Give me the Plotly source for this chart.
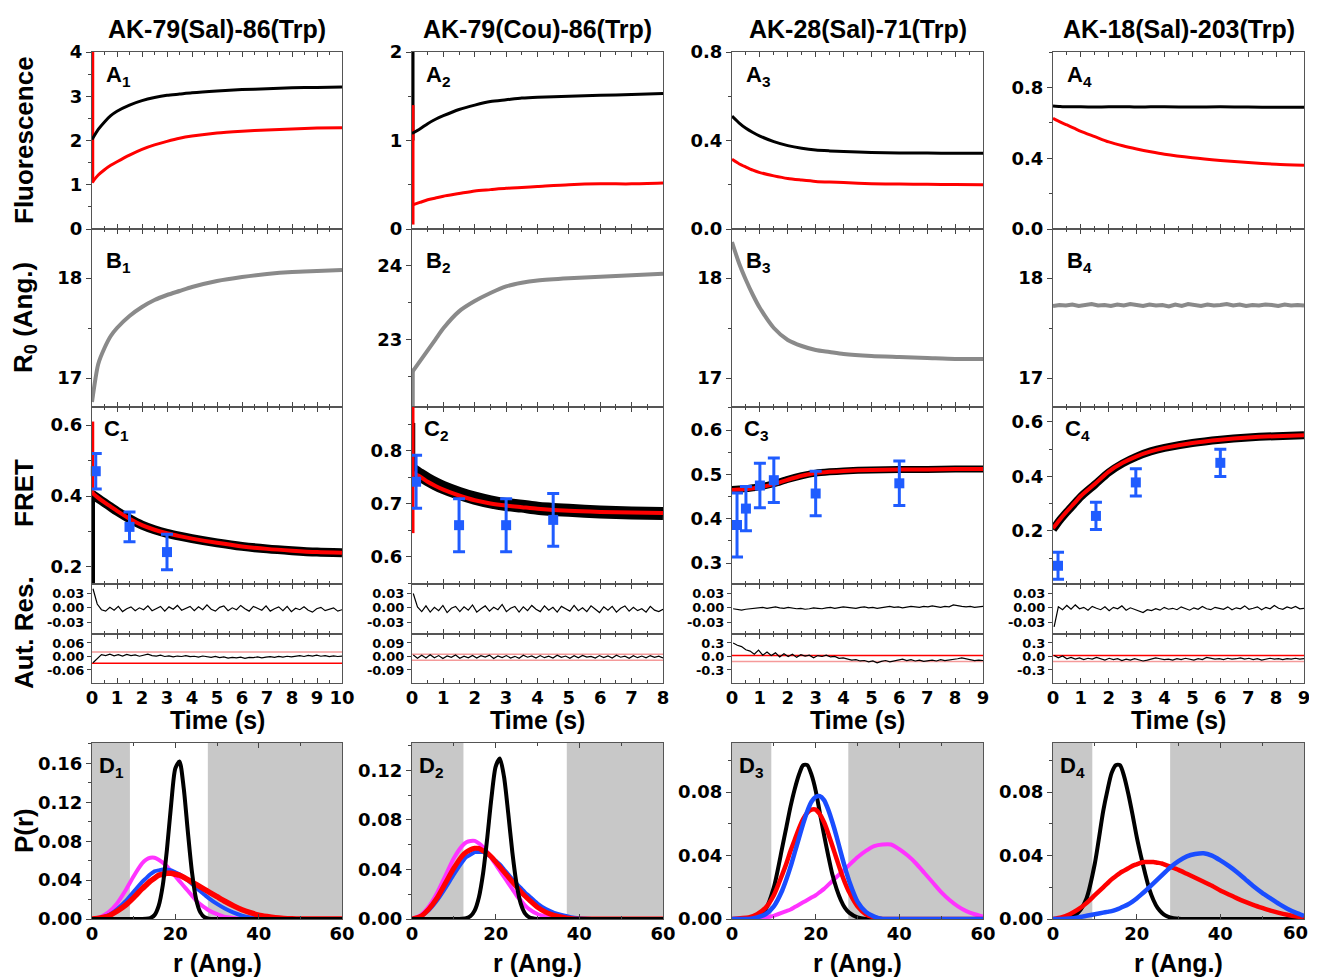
import numpy as np
import plotly.graph_objects as go

# ---------------------------------------------------------------- data
titles = ["AK-79(Sal)-86(Trp)", "AK-79(Cou)-86(Trp)", "AK-28(Sal)-71(Trp)", "AK-18(Sal)-203(Trp)"]
t_max = [10, 8, 9, 9]

t1 = [0, 0.25, 0.5, 0.75, 1, 1.5, 2, 2.5, 3, 3.5, 4, 5, 6, 7, 8, 9, 10]
t2 = [0, 0.25, 0.5, 0.75, 1, 1.5, 2, 2.5, 3, 3.5, 4, 5, 6, 7, 8]
t3 = [0, 0.25, 0.5, 0.75, 1, 1.5, 2, 2.5, 3, 3.5, 4, 5, 6, 7, 8, 9]
t4 = [0, 0.25, 0.5, 0.75, 1, 1.5, 2, 2.5, 3, 3.5, 4, 5, 6, 7, 8, 9]

# Fluorescence (A panels): black = donor channel, red = acceptor channel
a1_black = [2.02, 2.25, 2.42, 2.56, 2.66, 2.80, 2.90, 2.97, 3.02, 3.05, 3.08, 3.12, 3.15, 3.17, 3.19, 3.20, 3.21]
a1_red = [1.05, 1.22, 1.34, 1.44, 1.52, 1.67, 1.80, 1.90, 1.98, 2.05, 2.10, 2.17, 2.21, 2.24, 2.26, 2.28, 2.29]
a2_black = [1.08, 1.13, 1.19, 1.24, 1.28, 1.35, 1.40, 1.44, 1.46, 1.48, 1.49, 1.50, 1.51, 1.52, 1.53]
a2_red = [0.27, 0.30, 0.33, 0.35, 0.37, 0.40, 0.43, 0.445, 0.46, 0.47, 0.48, 0.50, 0.51, 0.51, 0.52]
a3_black = [0.51, 0.48, 0.455, 0.436, 0.42, 0.395, 0.377, 0.365, 0.357, 0.353, 0.35, 0.346, 0.344, 0.343, 0.342, 0.342]
a3_red = [0.315, 0.295, 0.28, 0.266, 0.255, 0.24, 0.228, 0.221, 0.215, 0.212, 0.21, 0.205, 0.203, 0.202, 0.201, 0.20]
a4_black = [0.695, 0.692, 0.690, 0.691, 0.690, 0.689, 0.690, 0.691, 0.689, 0.690, 0.690, 0.689, 0.690, 0.689, 0.688, 0.688]
a4_red = [0.625, 0.605, 0.588, 0.570, 0.552, 0.522, 0.492, 0.470, 0.452, 0.436, 0.422, 0.402, 0.387, 0.375, 0.366, 0.360]
a1_red_spike = [4.0, 1.05]
a2_black_spike = [2.0, 1.0]
a2_red_spike = [1.4, 0.05]

# R0 (B panels)
b1_r0 = [16.76, 17.14, 17.30, 17.42, 17.50, 17.62, 17.71, 17.78, 17.83, 17.87, 17.91, 17.97, 18.01, 18.04, 18.06, 18.07, 18.08]
b2_r0 = [22.55, 22.70, 22.85, 23.00, 23.15, 23.38, 23.52, 23.63, 23.72, 23.77, 23.80, 23.83, 23.85, 23.87, 23.89]
b3_r0 = [18.36, 18.15, 17.98, 17.83, 17.70, 17.50, 17.38, 17.32, 17.28, 17.26, 17.24, 17.22, 17.21, 17.20, 17.19, 17.19]
b4_r0 = [17.72, 17.73, 17.725, 17.735, 17.72, 17.73, 17.74, 17.725, 17.73, 17.72, 17.735, 17.725, 17.74, 17.73,
         17.72, 17.735, 17.725, 17.73, 17.715, 17.735, 17.72, 17.74, 17.73, 17.72, 17.735, 17.725, 17.73, 17.74,
         17.725, 17.735, 17.72, 17.73, 17.725, 17.735, 17.73, 17.72, 17.735, 17.725, 17.73, 17.725]
b2_spike = [22.6, 22.08]

# FRET efficiency (C panels): data band (black) and fit (red)
c1_data = [0.405, 0.393, 0.381, 0.369, 0.357, 0.336, 0.318, 0.305, 0.295, 0.287, 0.280, 0.268, 0.258, 0.251, 0.246, 0.242, 0.240]
c1_fit = [0.410, 0.395, 0.382, 0.370, 0.358, 0.336, 0.318, 0.305, 0.295, 0.287, 0.280, 0.268, 0.258, 0.251, 0.246, 0.242, 0.240]
c2_data = [0.765, 0.755, 0.746, 0.738, 0.731, 0.720, 0.711, 0.704, 0.699, 0.696, 0.692, 0.688, 0.685, 0.683, 0.682]
c2_fit = [0.760, 0.752, 0.742, 0.734, 0.727, 0.716, 0.707, 0.701, 0.697, 0.694, 0.691, 0.687, 0.685, 0.684, 0.683]
c3_data = [0.466, 0.467, 0.468, 0.470, 0.472, 0.479, 0.489, 0.497, 0.503, 0.506, 0.508, 0.510, 0.511, 0.511, 0.512, 0.512]
c3_fit = [0.465, 0.466, 0.467, 0.469, 0.471, 0.478, 0.488, 0.497, 0.503, 0.506, 0.508, 0.510, 0.511, 0.511, 0.512, 0.512]
c4_data = [0.205, 0.240, 0.270, 0.298, 0.326, 0.370, 0.415, 0.448, 0.473, 0.492, 0.505, 0.523, 0.535, 0.543, 0.548, 0.551]
c4_fit = [0.210, 0.242, 0.272, 0.300, 0.328, 0.372, 0.418, 0.450, 0.474, 0.492, 0.505, 0.523, 0.535, 0.543, 0.548, 0.551]
c1_black_spike = [0.40, 0.152]
c1_red_spike = [0.61, 0.41]
c2_black_spike = [0.853, 0.75]
c2_red_spike = [0.883, 0.645]

# single-molecule / steady-state FRET points (blue squares with error bars)
c1_pt_t = [0.15, 1.5, 3.0]
c1_pt_v = [0.47, 0.313, 0.242]
c1_pt_e = [0.05, 0.042, 0.05]
c2_pt_t = [0.13, 1.5, 3.0, 4.5]
c2_pt_v = [0.742, 0.66, 0.66, 0.67]
c2_pt_e = [0.05, 0.05, 0.05, 0.05]
c3_pt_t = [0.18, 0.5, 1.0, 1.5, 3.0, 6.0]
c3_pt_v = [0.386, 0.423, 0.475, 0.487, 0.457, 0.48]
c3_pt_e = [0.072, 0.05, 0.05, 0.05, 0.05, 0.05]
c4_pt_t = [0.18, 1.54, 2.97, 6.0]
c4_pt_v = [0.072, 0.255, 0.378, 0.45]
c4_pt_e = [0.05, 0.05, 0.05, 0.05]

# residuals (upper strip)
res1 = [
    [0.040, 0.008, -0.004, -0.007, 0.001, -0.005, 0.003, -0.008, -0.002, 0.002, -0.006, 0.000, -0.004, 0.004, -0.006,
     -0.001, 0.003, -0.007, 0.002, -0.003, 0.005, -0.005, -0.001, 0.003, -0.006, 0.002, -0.004, 0.006, -0.003, -0.007,
     0.001, 0.004, -0.006, 0.000, -0.004, 0.005, -0.002, -0.007, 0.003, -0.001, -0.005, 0.004, -0.007, -0.002, 0.002,
     -0.006, 0.003, -0.008, -0.001, -0.004, 0.002, -0.005, -0.009, -0.002, 0.001, -0.006, -0.003, 0.000, -0.007, -0.004],
    [0.030, 0.002, -0.008, 0.004, -0.009, 0.001, -0.006, 0.005, -0.010, -0.001, 0.003, -0.008, 0.002, -0.005, 0.006,
     -0.009, -0.002, 0.004, -0.007, 0.001, -0.004, 0.007, -0.008, -0.001, 0.003, -0.009, 0.002, -0.006, 0.005, -0.003,
     -0.008, 0.004, -0.005, 0.001, -0.009, 0.003, -0.002, -0.007, 0.005, -0.006, 0.000, -0.008, 0.004, -0.004, -0.010,
     0.002, -0.005, 0.003, -0.009, -0.001, 0.004, -0.007, 0.001, -0.006, -0.002, -0.009, 0.003, -0.005, -0.008, -0.003],
    [-0.002, -0.004, -0.005, -0.003, -0.002, -0.001, 0.000, 0.001, -0.001, 0.001, 0.002, 0.000, -0.001, 0.001, 0.000,
     -0.002, -0.001, -0.003, -0.002, 0.000, -0.001, -0.002, 0.000, 0.001, -0.001, 0.000, 0.002, 0.001, 0.000, -0.001,
     0.001, 0.002, 0.000, 0.001, -0.001, 0.000, 0.002, 0.003, 0.001, 0.002, 0.000, 0.001, 0.003, 0.002, 0.001,
     0.003, 0.002, 0.004, 0.002, 0.001, 0.003, 0.002, 0.006, 0.004, 0.003, 0.002, 0.003, 0.001, 0.002, 0.003],
    [-0.040, 0.002, -0.004, 0.005, -0.003, 0.006, -0.002, 0.001, -0.005, 0.003, -0.001, -0.004, 0.002, -0.006, 0.001,
     -0.002, 0.004, -0.005, 0.000, -0.003, -0.007, -0.010, -0.004, -0.006, -0.002, -0.005, 0.001, -0.003, -0.001, -0.004,
     0.002, -0.002, -0.005, 0.000, -0.003, 0.003, -0.002, -0.004, 0.001, -0.001, -0.003, 0.002, -0.004, 0.000, -0.002,
     0.004, -0.003, -0.001, 0.002, -0.004, 0.001, -0.002, 0.005, -0.001, -0.003, 0.002, -0.001, 0.003, -0.002, -0.001],
]
# autocorrelation of residuals (lower strip)
res2 = [
    [-0.028, -0.010, 0.008, 0.004, 0.010, 0.003, 0.008, 0.002, 0.009, 0.004, 0.007, 0.001, 0.006, 0.010, 0.004,
     0.002, 0.006, 0.000, 0.003, -0.002, 0.002, 0.000, 0.004, -0.001, 0.001, -0.003, 0.002, -0.002, -0.004, 0.000,
     -0.005, -0.002, -0.007, -0.004, -0.006, -0.003, -0.008, -0.004, -0.005, -0.002, -0.006, -0.003, -0.001, -0.004, 0.000,
     -0.003, 0.001, -0.002, 0.002, 0.004, 0.000, 0.005, 0.002, 0.006, 0.001, 0.004, -0.001, 0.003, 0.000, 0.002],
    [0.010, -0.012, 0.008, -0.010, 0.012, -0.008, 0.006, -0.014, 0.004, -0.006, 0.010, -0.012, 0.002, -0.009, 0.007,
     -0.011, 0.005, -0.004, 0.009, -0.013, 0.003, -0.007, 0.006, -0.010, 0.001, -0.012, 0.008, -0.005, 0.004, -0.011,
     0.006, -0.008, 0.002, -0.010, 0.009, -0.006, 0.003, -0.012, 0.005, -0.009, 0.007, -0.004, 0.001, -0.011, 0.006,
     -0.007, 0.004, -0.010, 0.008, -0.005, 0.002, -0.012, 0.005, -0.008, 0.003, -0.009, 0.006, -0.006, 0.002, -0.010],
    [0.30, 0.25, 0.22, 0.15, 0.12, 0.05, 0.14, 0.03, 0.10, 0.02, 0.08, -0.01, 0.06, 0.00, 0.05,
     -0.02, 0.04, 0.01, 0.03, -0.03, 0.02, 0.00, 0.03, -0.01, 0.00, -0.04, -0.03, -0.06, -0.08, -0.07,
     -0.10, -0.09, -0.12, -0.10, -0.14, -0.11, -0.09, -0.12, -0.10, -0.08, -0.06, -0.09, -0.07, -0.10, -0.08,
     -0.11, -0.09, -0.08, -0.10, -0.07, -0.09, -0.08, -0.06, -0.05, -0.03, -0.05, -0.08, -0.09, -0.08, -0.09],
    [0.02, -0.03, 0.01, -0.05, -0.02, -0.06, -0.03, -0.07, -0.04, -0.06, -0.02, -0.05, -0.08, -0.04, -0.07,
     -0.05, -0.09, -0.06, -0.08, -0.05, -0.07, -0.10, -0.08, -0.06, -0.03, -0.05, -0.07, -0.06, -0.08, -0.05,
     -0.07, -0.04, -0.06, -0.08, -0.05, -0.07, -0.02, -0.04, -0.06, -0.05, -0.07, -0.04, -0.06, -0.05, -0.03,
     -0.06, -0.04, -0.07, -0.05, -0.08, -0.06, -0.04, -0.06, -0.05, -0.07, -0.05, -0.06, -0.04, -0.06, -0.05],
]
res2_band_hi = [0.02, 0.015, 0.02, 0.02]
res2_band_lo = [-0.03, -0.025, -0.11, -0.11]

# distance distributions (D panels)
r_grid = [0, 2, 4, 6, 8, 10, 12, 13, 14, 15, 16, 17, 18, 19, 20, 21, 22, 23, 24, 25, 26, 27, 28,
          30, 32, 34, 36, 38, 40, 42, 44, 46, 48, 50, 52, 54, 56, 58, 60]
r_ticks = [0, 20, 40, 60]
d1_black = [0, 0, 0, 0, 0, 0, 0, 0.0002, 0.001, 0.004, 0.0135, 0.035, 0.072, 0.118, 0.155, 0.162, 0.135, 0.090, 0.048,
            0.020, 0.0068, 0.0018, 0.0004, 0, 0, 0, 0, 0, 0, 0, 0, 0, 0, 0, 0, 0, 0, 0, 0]
d1_magenta = [0, 0.002, 0.007, 0.016, 0.029, 0.044, 0.057, 0.061, 0.063, 0.063, 0.061, 0.058, 0.054, 0.049, 0.044,
              0.039, 0.034, 0.029, 0.024, 0.019, 0.015, 0.012, 0.009, 0.005, 0.002, 0.001, 0, 0, 0, 0, 0, 0, 0, 0, 0,
              0, 0, 0, 0]
d1_blue = [0, 0.001, 0.004, 0.010, 0.018, 0.028, 0.038, 0.042, 0.046, 0.049, 0.050, 0.051, 0.051, 0.050, 0.048, 0.046,
           0.043, 0.040, 0.036, 0.032, 0.0285, 0.025, 0.0215, 0.0155, 0.0105, 0.0065, 0.0035, 0.0015, 0.0005, 0, 0, 0,
           0, 0, 0, 0, 0, 0, 0]
d1_red = [0, 0.001, 0.003, 0.008, 0.014, 0.022, 0.031, 0.035, 0.039, 0.042, 0.045, 0.046, 0.047, 0.047, 0.046, 0.045,
          0.043, 0.0405, 0.038, 0.0355, 0.033, 0.0305, 0.028, 0.023, 0.018, 0.0135, 0.0095, 0.0065, 0.004, 0.0025,
          0.0013, 0.0006, 0.0002, 0, 0, 0, 0, 0, 0]
d2_black = [0, 0, 0, 0, 0, 0, 0.0002, 0.0007, 0.0024, 0.007, 0.0176, 0.037, 0.0658, 0.098, 0.123, 0.1295, 0.1147,
            0.0854, 0.0534, 0.0281, 0.0124, 0.0046, 0.0014, 0, 0, 0, 0, 0, 0, 0, 0, 0, 0, 0, 0, 0, 0, 0, 0]
d2_magenta = [0, 0.003, 0.010, 0.021, 0.035, 0.049, 0.059, 0.062, 0.063, 0.063, 0.061, 0.058, 0.054, 0.049, 0.044,
              0.039, 0.034, 0.029, 0.024, 0.019, 0.015, 0.011, 0.008, 0.004, 0.002, 0.0005, 0, 0, 0, 0, 0, 0, 0, 0,
              0, 0, 0, 0, 0]
d2_red = [0, 0.002, 0.008, 0.017, 0.029, 0.041, 0.051, 0.054, 0.056, 0.057, 0.057, 0.055, 0.053, 0.050, 0.046, 0.042,
          0.038, 0.034, 0.030, 0.026, 0.022, 0.0185, 0.0155, 0.0095, 0.0055, 0.003, 0.0015, 0.0005, 0, 0, 0, 0, 0, 0, 0,
          0, 0, 0, 0]
d2_blue = [0, 0.002, 0.007, 0.015, 0.025, 0.036, 0.046, 0.050, 0.052, 0.054, 0.054, 0.054, 0.052, 0.050, 0.047, 0.044,
           0.040, 0.036, 0.032, 0.0285, 0.025, 0.0215, 0.0185, 0.0125, 0.008, 0.005, 0.003, 0.0015, 0.0007, 0.0002, 0, 0,
           0, 0, 0, 0, 0, 0, 0]
d3_black = [0, 0, 0.0005, 0.002, 0.006, 0.020, 0.045, 0.058, 0.071, 0.082, 0.091, 0.097, 0.097, 0.091, 0.081, 0.067,
            0.053, 0.040, 0.028, 0.019, 0.012, 0.007, 0.004, 0.001, 0, 0, 0, 0, 0, 0, 0, 0, 0, 0, 0, 0, 0, 0, 0]
d3_magenta = [0, 0.0001, 0.0002, 0.0005, 0.001, 0.002, 0.004, 0.005, 0.006, 0.0075, 0.009, 0.0105, 0.012, 0.0135,
              0.015, 0.017, 0.019, 0.0215, 0.024, 0.0265, 0.029, 0.0315, 0.034, 0.039, 0.043, 0.046, 0.047, 0.047,
              0.044, 0.040, 0.035, 0.029, 0.023, 0.017, 0.012, 0.008, 0.005, 0.003, 0.0015]
d3_red = [0, 0.0005, 0.001, 0.003, 0.007, 0.015, 0.028, 0.035, 0.043, 0.050, 0.057, 0.063, 0.067, 0.069, 0.069, 0.066,
          0.061, 0.054, 0.046, 0.038, 0.030, 0.023, 0.017, 0.008, 0.003, 0.001, 0, 0, 0, 0, 0, 0, 0, 0, 0, 0, 0, 0, 0]
d3_blue = [0, 0, 0, 0.001, 0.003, 0.008, 0.018, 0.025, 0.033, 0.042, 0.051, 0.060, 0.068, 0.074, 0.077, 0.0775, 0.075,
           0.069, 0.061, 0.052, 0.042, 0.0325, 0.024, 0.011, 0.0045, 0.0015, 0, 0, 0, 0, 0, 0, 0, 0, 0, 0, 0, 0, 0]
d4_black = [0, 0, 0.0005, 0.004, 0.013, 0.035, 0.068, 0.081, 0.092, 0.097, 0.097, 0.090, 0.079, 0.066, 0.052, 0.040,
            0.029, 0.019, 0.012, 0.007, 0.004, 0.002, 0.001, 0.0002, 0, 0, 0, 0, 0, 0, 0, 0, 0, 0, 0, 0, 0, 0, 0]
d4_red = [0, 0.001, 0.003, 0.006, 0.010, 0.015, 0.020, 0.0225, 0.025, 0.027, 0.029, 0.0305, 0.032, 0.0335, 0.0345,
          0.0355, 0.036, 0.036, 0.036, 0.0355, 0.035, 0.034, 0.033, 0.031, 0.0285, 0.026, 0.0235, 0.021, 0.018, 0.0155,
          0.013, 0.0108, 0.0088, 0.007, 0.0053, 0.0039, 0.0027, 0.0017, 0.001]
d4_blue = [0, 0, 0.0003, 0.001, 0.002, 0.003, 0.004, 0.0045, 0.005, 0.0058, 0.0068, 0.008, 0.0093, 0.011, 0.013,
           0.0152, 0.0175, 0.02, 0.0225, 0.025, 0.0275, 0.030, 0.0325, 0.0365, 0.0395, 0.041, 0.0415, 0.040, 0.037,
           0.0335, 0.0295, 0.025, 0.0205, 0.0165, 0.013, 0.0095, 0.0065, 0.004, 0.002]
d_shade_left = [9.1, 12.3, 9.4, 9.4]
d_shade_right = [27.8, 37.0, 27.8, 28.0]

# ---------------------------------------------------------------- layout geometry / styles
# the page body has an 8px margin, so the figure is drawn 8px in from the window edge;
# the figure is made as large as the window so nothing near the right/bottom edge is clipped
OFF = 8
W, H = 1317, 977
COL_PX = [(92, 342), (412, 663), (732, 983), (1053, 1304)]
ROWS = ["A", "B", "C", "R1", "R2", "D"]
ROW_PX = {"A": (52, 229), "B": (229, 407), "C": (407, 584), "R1": (584, 634), "R2": (634, 683), "D": (743, 919)}

TXT = "Liberation Sans, Arial, sans-serif"
TICKF = "DejaVu Sans, Verdana, sans-serif"
RED = "#ff0000"
PINK = "#f59a9a"
GRAY = "#8a8a8a"
BLUE_PT = "#1f5cff"
BLUE = "#1a4dff"
MAG = "#ff33ff"
SHADE = "#c8c8c8"

Y_RANGE = {
    "A": [[0, 4], [0, 2], [0, 0.8], [0, 1.0]],
    "B": [[16.71, 18.49], [22.08, 24.5], [16.71, 18.49], [16.71, 18.49]],
    "C": [[0.152, 0.651], [0.549, 0.883], [0.253, 0.652], [0.005, 0.655]],
    "R1": [[-0.055, 0.05]] * 4,
    "R2": [[-0.118, 0.10], [-0.177, 0.15], [-0.59, 0.5], [-0.59, 0.5]],
    "D": [[0, 0.181], [0, 0.142], [0, 0.111], [0, 0.111]],
}
Y_TICKS = {
    "A": [[0, 1, 2, 3, 4], [0, 1, 2], [0, 0.4, 0.8], [0, 0.4, 0.8]],
    "B": [[17, 18], [23, 24], [17, 18], [17, 18]],
    "C": [[0.2, 0.4, 0.6], [0.6, 0.7, 0.8], [0.3, 0.4, 0.5, 0.6], [0.2, 0.4, 0.6]],
    "R1": [[-0.03, 0, 0.03]] * 4,
    "R2": [[-0.06, 0, 0.06], [-0.09, 0, 0.09], [-0.3, 0, 0.3], [-0.3, 0, 0.3]],
    "D": [[0, 0.04, 0.08, 0.12, 0.16], [0, 0.04, 0.08, 0.12], [0, 0.04, 0.08], [0, 0.04, 0.08]],
}
Y_DEC = {"A": [0, 0, 1, 1], "B": [0, 0, 0, 0], "C": [1, 1, 1, 1], "R1": [2, 2, 2, 2], "R2": [2, 2, 1, 1],
         "D": [2, 2, 2, 2]}
Y_MINOR = {"A": [0.5, 0.5, 0.2, 0.2], "B": [0.5, 0.5, 0.5, 0.5], "C": [0.1, 0.05, 0.05, 0.1],
           "R1": [0.015] * 4, "R2": [0.03, 0.045, 0.15, 0.15], "D": [0.02, 0.02, 0.02, 0.02]}


def fx(px):
    return (px - OFF) / W


def fy(py):
    return 1 - (py - OFF) / H


def pid(row, ci):
    return ROWS.index(row) * 4 + ci + 1


def ref(n):
    return ("x" if n == 1 else f"x{n}"), ("y" if n == 1 else f"y{n}")


def fmt(v, d):
    if abs(v) < 1e-12:
        v = 0.0
    return f"{v:.{d}f}"


fig = go.Figure()


def add_line(row, ci, x, y, color, width, shape="spline"):
    xr, yr = ref(pid(row, ci))
    line = dict(color=color, width=width, shape=shape)
    if shape == "spline":
        line["smoothing"] = 0.7
    fig.add_trace(go.Scatter(x=x, y=y, mode="lines", line=line, xaxis=xr, yaxis=yr,
                             hoverinfo="skip", showlegend=False))


def add_spike(row, ci, yvals, color, width):
    add_line(row, ci, [0.04, 0.04], yvals, color, width, shape="linear")


def add_points(ci, t, v, e):
    xr, yr = ref(pid("C", ci))
    fig.add_trace(go.Scatter(
        x=t, y=v, mode="markers",
        marker=dict(symbol="square", size=10, color=BLUE_PT),
        error_y=dict(type="data", array=e, visible=True, color=BLUE_PT, thickness=3, width=6),
        xaxis=xr, yaxis=yr, hoverinfo="skip", showlegend=False, cliponaxis=False))


# --- A
time_grids = [t1, t2, t3, t4]
a_black = [a1_black, a2_black, a3_black, a4_black]
a_red = [a1_red, a2_red, a3_red, a4_red]
add_spike("A", 0, a1_red_spike, RED, 2.5)
add_spike("A", 1, a2_black_spike, "black", 2.5)
add_spike("A", 1, a2_red_spike, RED, 2.5)
for ci in range(4):
    add_line("A", ci, time_grids[ci], a_black[ci], "black", 3)
    add_line("A", ci, time_grids[ci], a_red[ci], RED, 3)

# --- B
b_r0 = [b1_r0, b2_r0, b3_r0]
add_spike("B", 1, b2_spike, GRAY, 3)
for ci in range(3):
    add_line("B", ci, time_grids[ci], b_r0[ci], GRAY, 4)
add_line("B", 3, list(np.linspace(0, t_max[3], len(b4_r0))), b4_r0, GRAY, 4, shape="linear")

# --- C
c_data = [c1_data, c2_data, c3_data, c4_data]
c_fit = [c1_fit, c2_fit, c3_fit, c4_fit]
c_band = [9, 13, 7, 8]
add_spike("C", 0, c1_black_spike, "black", 4)
add_spike("C", 1, c2_black_spike, "black", 4)
for ci in range(4):
    add_line("C", ci, time_grids[ci], c_data[ci], "black", c_band[ci])
    add_line("C", ci, time_grids[ci], c_fit[ci], RED, 4)
add_spike("C", 0, c1_red_spike, RED, 2.5)
add_spike("C", 1, c2_red_spike, RED, 2.5)
add_points(0, c1_pt_t, c1_pt_v, c1_pt_e)
add_points(1, c2_pt_t, c2_pt_v, c2_pt_e)
add_points(2, c3_pt_t, c3_pt_v, c3_pt_e)
add_points(3, c4_pt_t, c4_pt_v, c4_pt_e)

# --- residual strips
hi_col = [PINK, PINK, RED, RED]
lo_col = [RED, PINK, PINK, PINK]
for ci in range(4):
    T = t_max[ci]
    add_line("R1", ci, list(np.linspace(0.04, T, len(res1[ci]))), res1[ci], "black", 1.2, shape="linear")
    add_line("R2", ci, [0, T], [res2_band_hi[ci]] * 2, hi_col[ci], 1.5, shape="linear")
    add_line("R2", ci, [0, T], [res2_band_lo[ci]] * 2, lo_col[ci], 1.5, shape="linear")
    add_line("R2", ci, list(np.linspace(0.04, T, len(res2[ci]))), res2[ci], "black", 1.2, shape="linear")

# --- D
d_sets = [
    [(d1_magenta, MAG, 4), (d1_blue, BLUE, 4), (d1_red, RED, 5.5), (d1_black, "black", 4)],
    [(d2_magenta, MAG, 4), (d2_blue, BLUE, 4), (d2_red, RED, 5), (d2_black, "black", 4)],
    [(d3_magenta, MAG, 4), (d3_black, "black", 4), (d3_red, RED, 4.5), (d3_blue, BLUE, 4.5)],
    [(d4_black, "black", 4), (d4_red, RED, 4.5), (d4_blue, BLUE, 4.5)],
]
shapes = []
for ci in range(4):
    xr, yr = ref(pid("D", ci))
    shapes.append(dict(type="rect", xref=xr, yref=f"{yr} domain", x0=0, x1=d_shade_left[ci], y0=0, y1=1,
                       fillcolor=SHADE, line=dict(width=0), layer="below"))
    shapes.append(dict(type="rect", xref=xr, yref=f"{yr} domain", x0=d_shade_right[ci], x1=60, y0=0, y1=1,
                       fillcolor=SHADE, line=dict(width=0), layer="below"))
    for vals, col, wdt in d_sets[ci]:
        add_line("D", ci, r_grid, vals, col, wdt)

# ---------------------------------------------------------------- axes
layout_axes = {}
tick_main = dict(family=TICKF, size=18, color="black", weight="bold")
tick_small = dict(family=TICKF, size=13, color="black", weight="bold")
for row in ROWS:
    for ci in range(4):
        n = pid(row, ci)
        xr, yr = ref(n)
        xname = "xaxis" if n == 1 else f"xaxis{n}"
        yname = "yaxis" if n == 1 else f"yaxis{n}"
        x0, x1 = COL_PX[ci]
        y0, y1 = ROW_PX[row]
        if row == "D":
            xrange = [0, 60]
            xt = r_ticks
            xtext = [str(v) for v in xt]
            if ci == 3:
                xtext[-1] = ""  # last label drawn as annotation so it is not clipped at the window edge
            xminor = 10
            show_xl = True
        else:
            xrange = [0, t_max[ci]]
            xt = list(range(t_max[ci] + 1))
            xtext = [str(v) for v in xt]
            xminor = 0.5
            show_xl = row == "R2"
        layout_axes[xname] = dict(
            domain=[fx(x0), fx(x1)], anchor=yr, range=xrange,
            tickmode="array", tickvals=xt, ticktext=xtext,
            showticklabels=show_xl, ticks="inside", ticklen=5, tickwidth=1, tickcolor="#444",
            ticklabelstandoff=-2, ticklabeloverflow="allow",
            minor=dict(tickmode="linear", tick0=0, dtick=xminor, ticks="inside", ticklen=3, tickcolor="#444"),
            showline=True, linecolor="#555", linewidth=1, mirror="ticks", automargin=False,
            showgrid=False, zeroline=False, tickfont=tick_main, fixedrange=True)
        yt = Y_TICKS[row][ci]
        small = row in ("R1", "R2")
        yax = dict(
            domain=[fy(y1), fy(y0)], anchor=xr, range=Y_RANGE[row][ci],
            tickmode="array", tickvals=yt, ticktext=[fmt(v, Y_DEC[row][ci]) for v in yt],
            ticks="outside", ticklen=4 if small else 5, tickwidth=1, tickcolor="#444",
            showline=True, linecolor="#555", linewidth=1, mirror=True, automargin=False,
            showgrid=False, zeroline=False, tickfont=tick_small if small else tick_main, fixedrange=True)
        if not small:
            yax["minor"] = dict(tickmode="linear", tick0=0, dtick=Y_MINOR[row][ci], ticks="outside", ticklen=3,
                                tickcolor="#444")
        layout_axes[yname] = yax

# ---------------------------------------------------------------- annotations
ann = []


def px_ann(text, xpx, ypx, size, xanchor="center", angle=0, family=TXT):
    ann.append(dict(text=text, x=fx(xpx), y=fy(ypx), xref="paper", yref="paper", showarrow=False,
                    xanchor=xanchor, yanchor="middle", textangle=angle,
                    font=dict(family=family, size=size, color="black")))


for ci in range(4):
    cx = (COL_PX[ci][0] + COL_PX[ci][1]) / 2
    px_ann(f"<b>{titles[ci]}</b>", cx, 29, 25)
    px_ann("<b>Time (s)</b>", cx, 720, 25)
    px_ann("<b>r (Ang.)</b>", cx, 963, 25)
    left = COL_PX[ci][0]
    px_ann(f"<b>A<sub>{ci + 1}</sub></b>", left + 12, 76, 22, xanchor="left")
    px_ann(f"<b>B<sub>{ci + 1}</sub></b>", left + 12, 262, 22, xanchor="left")
    px_ann(f"<b>C<sub>{ci + 1}</sub></b>", left + 10, 430, 22, xanchor="left")
    px_ann(f"<b>D<sub>{ci + 1}</sub></b>", left + 5, 767, 22, xanchor="left")

# last r tick label of D4, right-aligned just inside the window
px_ann(f"<b>{r_ticks[-1]}</b>", 1310, 932, 18, xanchor="right", family=TICKF)

px_ann("<b>Fluorescence</b>", 24, 140, 26, angle=-90)
px_ann("<b>R<sub>0</sub> (Ang.)</b>", 24, 318, 26, angle=-90)
px_ann("<b>FRET</b>", 24, 493, 26, angle=-90)
px_ann("<b>Aut. Res.</b>", 24, 633, 26, angle=-90)
px_ann("<b>P(r)</b>", 24, 831, 26, angle=-90)

fig.update_layout(
    width=W, height=H, margin=dict(l=0, r=0, t=0, b=0, pad=0, autoexpand=False),
    paper_bgcolor="white", plot_bgcolor="white", showlegend=False,
    font=dict(family=TXT, color="black"),
    annotations=ann, shapes=shapes, **layout_axes)

fig.write_html("out.html")
